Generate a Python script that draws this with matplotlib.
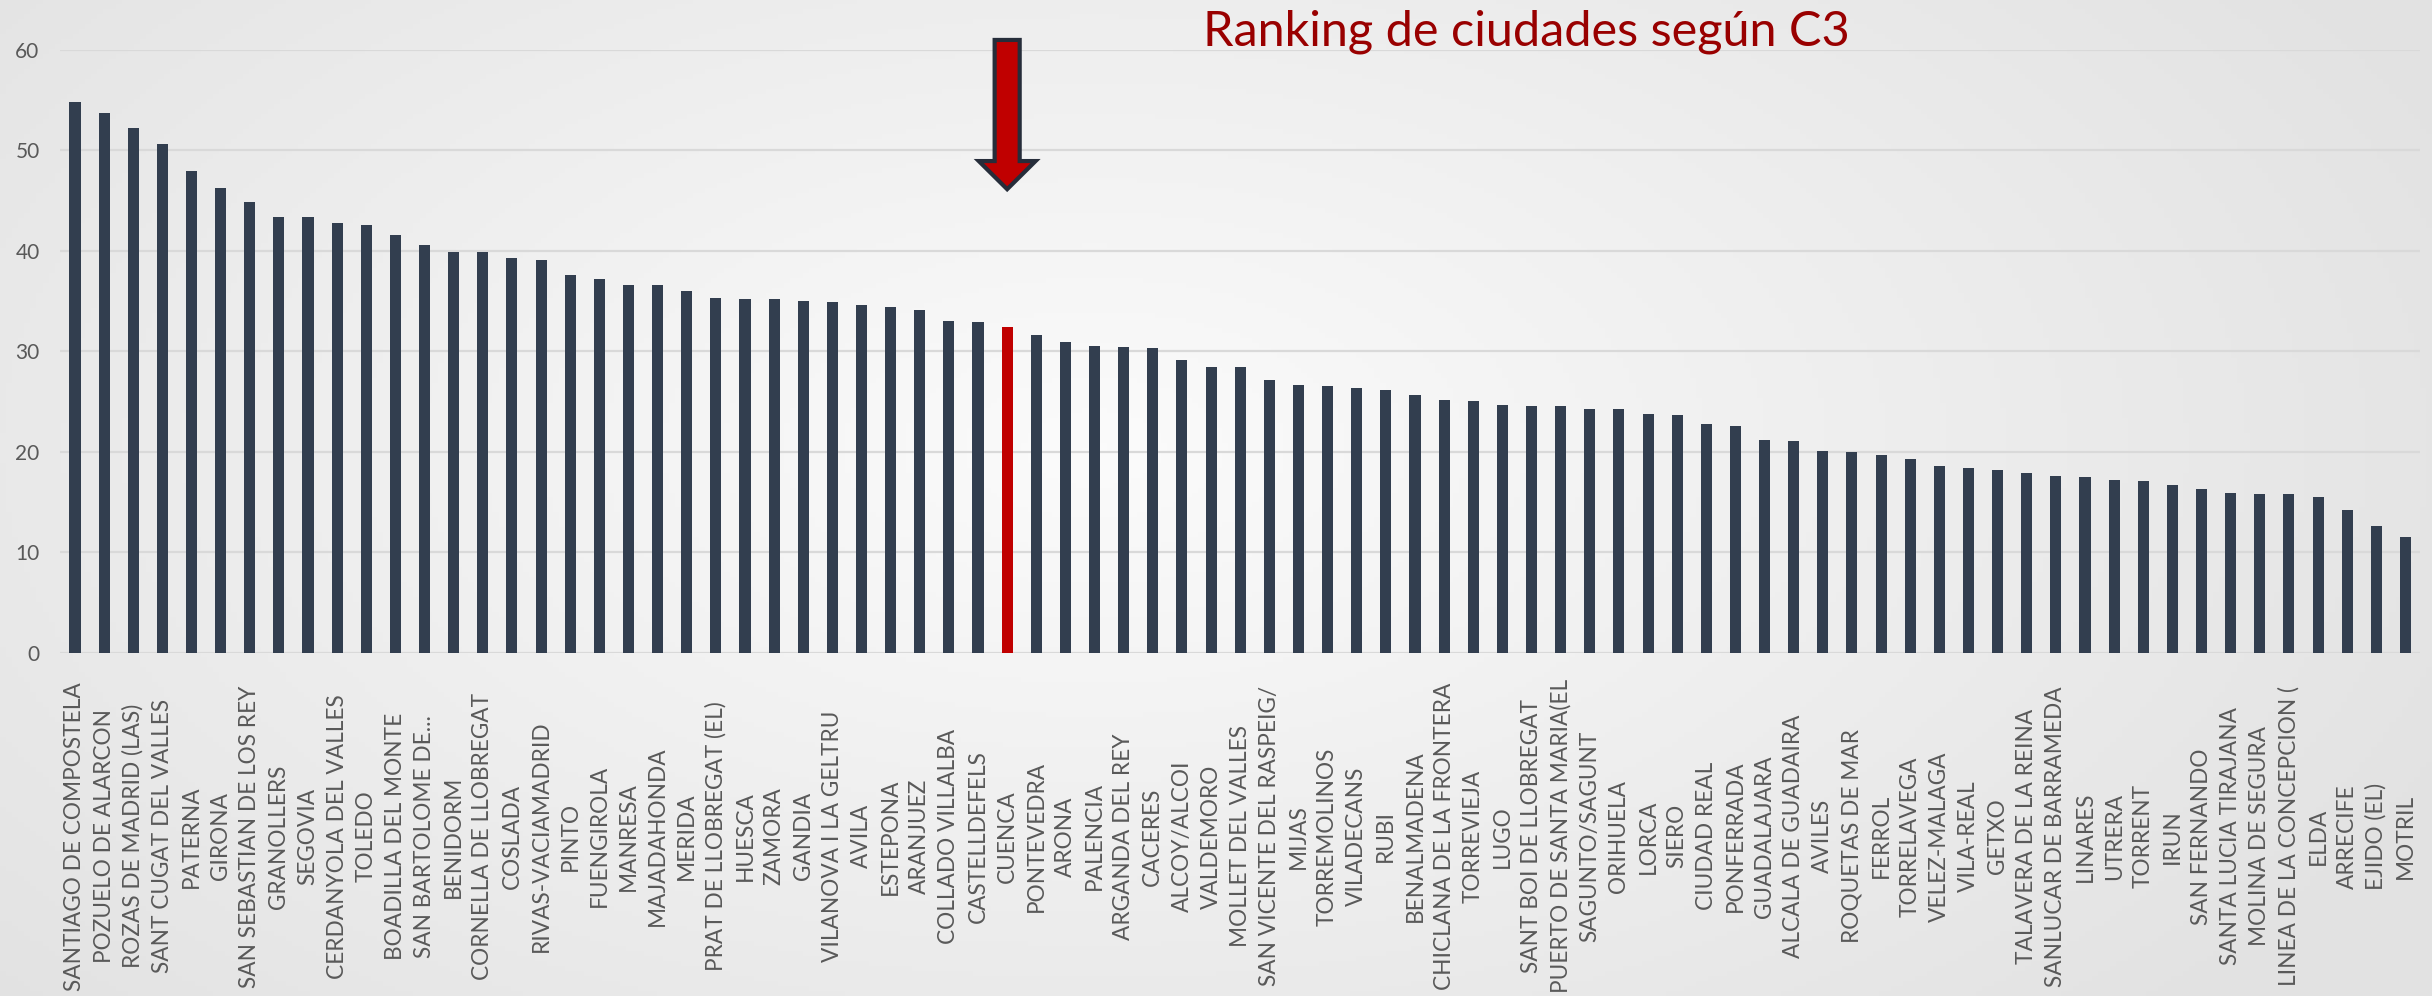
import numpy as np
import matplotlib.pyplot as plt
from matplotlib.patches import FancyArrow

# datos: ranking de ciudades segun C3
ciudades = [
    'SANTIAGO DE COMPOSTELA', 'POZUELO DE ALARCON', 'ROZAS DE MADRID (LAS)', 'SANT CUGAT DEL VALLES',
    'PATERNA', 'GIRONA', 'SAN SEBASTIAN DE LOS REY', 'GRANOLLERS', 'SEGOVIA', 'CERDANYOLA DEL VALLES',
    'TOLEDO', 'BOADILLA DEL MONTE', 'SAN BARTOLOME DE...', 'BENIDORM', 'CORNELLA DE LLOBREGAT',
    'COSLADA', 'RIVAS-VACIAMADRID', 'PINTO', 'FUENGIROLA', 'MANRESA', 'MAJADAHONDA', 'MERIDA',
    'PRAT DE LLOBREGAT (EL)', 'HUESCA', 'ZAMORA', 'GANDIA', 'VILANOVA I LA GELTRU', 'AVILA',
    'ESTEPONA', 'ARANJUEZ', 'COLLADO VILLALBA', 'CASTELLDEFELS', 'CUENCA', 'PONTEVEDRA', 'ARONA',
    'PALENCIA', 'ARGANDA DEL REY', 'CACERES', 'ALCOY/ALCOI', 'VALDEMORO', 'MOLLET DEL VALLES',
    'SAN VICENTE DEL RASPEIG/', 'MIJAS', 'TORREMOLINOS', 'VILADECANS', 'RUBI', 'BENALMADENA',
    'CHICLANA DE LA FRONTERA', 'TORREVIEJA', 'LUGO', 'SANT BOI DE LLOBREGAT', 'PUERTO DE SANTA MARIA(EL',
    'SAGUNTO/SAGUNT', 'ORIHUELA', 'LORCA', 'SIERO', 'CIUDAD REAL', 'PONFERRADA', 'GUADALAJARA',
    'ALCALA DE GUADAIRA', 'AVILES', 'ROQUETAS DE MAR', 'FERROL', 'TORRELAVEGA', 'VELEZ-MALAGA',
    'VILA-REAL', 'GETXO', 'TALAVERA DE LA REINA', 'SANLUCAR DE BARRAMEDA', 'LINARES', 'UTRERA',
    'TORRENT', 'IRUN', 'SAN FERNANDO', 'SANTA LUCIA TIRAJANA', 'MOLINA DE SEGURA',
    'LINEA DE LA CONCEPCION (', 'ELDA', 'ARRECIFE', 'EJIDO (EL)', 'MOTRIL',
]
valores = [
    54.8, 53.7, 52.2, 50.6, 48.0, 46.3, 44.9, 43.4, 43.4, 42.8, 42.6, 41.6, 40.6, 39.9, 39.9, 39.3, 39.1, 37.6, 37.2,
    36.6, 36.6, 36.0, 35.3, 35.2, 35.2, 35.0, 34.9, 34.6, 34.4, 34.1, 33.0, 32.9, 32.4, 31.6, 30.9, 30.5, 30.4, 30.3, 29.2, 28.5,
    28.5, 27.2, 26.7, 26.6, 26.4, 26.2, 25.7, 25.2, 25.1, 24.7, 24.6, 24.6, 24.3, 24.3, 23.8, 23.7, 22.8, 22.6, 21.2, 21.1,
    20.1, 20.0, 19.7, 19.3, 18.6, 18.4, 18.2, 17.9, 17.6, 17.5, 17.2, 17.1, 16.7, 16.3, 15.9, 15.8, 15.8, 15.5, 14.2, 12.6, 11.5,
]
destacada = 'CUENCA'
yticks = [0, 10, 20, 30, 40, 50, 60]

plt.rcParams['font.family'] = ['Lato', 'DejaVu Sans']

fig = plt.figure(figsize=(24.32, 9.96), dpi=100)

# fondo con degradado radial claro (blanco en el centro, gris en los bordes)
bg = fig.add_axes([0, 0, 1, 1], zorder=-1)
gx, gy = np.meshgrid(np.linspace(0, 1, 400), np.linspace(0, 1, 200))
r = np.clip(np.sqrt(((gx - 0.45) / 0.6) ** 2 + ((gy - 0.45) / 0.8) ** 2), 0, 1)
g = 0.985 - 0.095 * r
bg.imshow(np.dstack([g, g, g]), aspect='auto', extent=[0, 1, 0, 1])
bg.axis('off')

ax = fig.add_axes([0.02484, 0.34438, 0.97023, 0.60542])
ax.patch.set_alpha(0)

x = np.arange(len(ciudades))
colores = ['#C00000' if c == destacada else '#323E4F' for c in ciudades]
ax.bar(x, valores, width=0.38, color=colores, zorder=2)

ax.set_xlim(-0.5, len(ciudades) - 0.5)
ax.set_ylim(0, 60)
ax.set_yticks(yticks)
ax.yaxis.grid(True, color='#D9D9D9', lw=1.6)
ax.set_axisbelow(True)
for s in ax.spines.values():
    s.set_visible(False)

ax.set_xticks(x)
ax.set_xticklabels(ciudades, rotation=90, va='center', ha='center', fontsize=16.3, color='#595959')
ax.tick_params(axis='x', length=0, pad=132)
ax.tick_params(axis='y', length=0, pad=15, labelsize=15, labelcolor='#595959')

# flecha sobre la ciudad destacada
i = ciudades.index(destacada)
arrow = FancyArrow(i, 61.0, 0, -14.85, width=0.86, head_width=1.95, head_length=2.8,
                   length_includes_head=True, facecolor='#C00000', edgecolor='#262D3A',
                   lw=3, clip_on=False, zorder=5)
ax.add_patch(arrow)

fig.text(0.4947, 0.954, 'Ranking de ciudades según C3', fontsize=35, color='#990000',
         ha='left', va='baseline')

fig.savefig('out.png', dpi=100)
